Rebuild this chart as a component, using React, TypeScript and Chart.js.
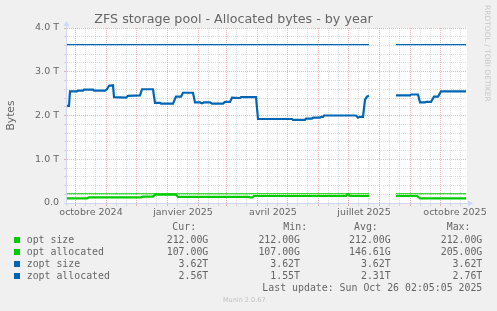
import React, { useEffect, useRef } from "react";
import { Chart, registerables } from "chart.js";

Chart.register(...registerables);

// ---------- data (x = days since 1 Oct 2024, y = terabytes) ----------
const TITLE = "ZFS storage pool - Allocated bytes - by year";
const X_MIN = -8;
const X_MAX = 392;

const monthStartDays = [0, 31, 61, 92, 123, 151, 182, 212, 243, 273, 304, 335, 365];
const minorDays = [10, 20, 41, 51, 71, 81, 102, 112, 133, 143, 161, 171, 192, 202, 222, 232, 253, 263, 283, 293, 314, 324, 345, 355, 375, 385];
const xLabelDays = [16, 108, 198, 289, 380];
const xLabels = ["octobre 2024", "janvier 2025", "avril 2025", "juillet 2025", "octobre 2025"];

const sizeDays = [-8, 294, 307, 321, 391];
const optSize = [0.212, 0.212, null, 0.212, 0.212];
const zoptSize = [3.62, 3.62, null, 3.62, 3.62];

const optAllocDays = [-8, 12, 14, 66, 68, 78, 80, 101, 103, 173, 175, 177, 179, 271, 272, 274, 275, 294, 307, 321, 342, 345, 391];
const optAlloc = [0.107, 0.107, 0.13, 0.13, 0.145, 0.145, 0.19, 0.19, 0.14, 0.14, 0.128, 0.128, 0.16, 0.16, 0.19, 0.19, 0.16, 0.16, null, 0.16, 0.16, 0.107, 0.107];

const zoptAllocDays = [-8, -6, -5, 2, 3, 8, 9, 18, 19, 30, 32, 34, 38, 39, 51, 53, 65, 67, 78, 80, 85, 86, 98, 101, 106, 108, 118, 120, 125, 127, 129, 135, 137, 148, 150, 155, 157, 165, 166, 181, 183, 217, 218, 230, 231, 237, 238, 245, 246, 248, 249, 281, 283, 285, 288, 290, 292, 294, 307, 321, 335, 336, 343, 345, 350, 351, 356, 359, 363, 366, 391];
const zoptAlloc = [2.22, 2.22, 2.55, 2.55, 2.57, 2.57, 2.59, 2.59, 2.57, 2.57, 2.6, 2.68, 2.69, 2.42, 2.41, 2.45, 2.46, 2.6, 2.6, 2.29, 2.29, 2.27, 2.27, 2.43, 2.43, 2.52, 2.52, 2.3, 2.3, 2.28, 2.3, 2.3, 2.27, 2.27, 2.31, 2.31, 2.41, 2.4, 2.42, 2.42, 1.92, 1.92, 1.9, 1.9, 1.93, 1.93, 1.95, 1.95, 1.97, 1.97, 2.0, 2.0, 1.95, 1.97, 1.97, 2.36, 2.43, 2.45, null, 2.46, 2.46, 2.48, 2.48, 2.3, 2.3, 2.31, 2.31, 2.43, 2.43, 2.55, 2.55];

const legendNames = ["opt size", "opt allocated", "zopt size", "zopt allocated"];
const legendColors = ["#00cc00", "#00cc00", "#0066b3", "#0066b3"];
const curValues = ["212.00G", "107.00G", "3.62T", "2.56T"];
const minValues = ["212.00G", "107.00G", "3.62T", "1.55T"];
const avgValues = ["212.00G", "146.61G", "3.62T", "2.31T"];
const maxValues = ["212.00G", "205.00G", "3.62T", "2.76T"];
const LAST_UPDATE = "Last update: Sun Oct 26 02:05:05 2025";

// ---------- styling ----------
const FONT_COLOR = "#666666";
const AXIS_COLOR = "#CFD6F8";
const MAJOR_GRID = "rgba(222,79,79,0.42)";
const MINOR_GRID = "rgba(143,143,143,0.3)";
const CLEAR = "rgba(0,0,0,0)";

const toPoints = (xs: number[], ys: (number | null)[]) => xs.map((x, i) => ({ x, y: ys[i] }));

const muninPlugin = {
  id: "muninFrame",
  beforeDraw(chart: any) {
    const { ctx, chartArea: a } = chart;
    ctx.save();
    ctx.fillStyle = "#ffffff";
    ctx.fillRect(a.left, a.top, a.right - a.left, a.bottom - a.top);
    ctx.restore();
  },
  afterDatasetsDraw(chart: any) {
    const { ctx, chartArea: a } = chart;
    ctx.save();
    ctx.strokeStyle = AXIS_COLOR;
    ctx.fillStyle = AXIS_COLOR;
    ctx.lineWidth = 1;
    ctx.beginPath();
    ctx.moveTo(a.left - 3, a.bottom + 0.5);
    ctx.lineTo(a.right + 3, a.bottom + 0.5);
    ctx.moveTo(a.left - 0.5, a.bottom + 3);
    ctx.lineTo(a.left - 0.5, a.top - 3);
    ctx.stroke();
    ctx.beginPath();
    ctx.moveTo(a.right + 1, a.bottom - 2.5);
    ctx.lineTo(a.right + 6, a.bottom + 0.5);
    ctx.lineTo(a.right + 1, a.bottom + 3.5);
    ctx.closePath();
    ctx.fill();
    ctx.beginPath();
    ctx.moveTo(a.left - 3.5, a.top - 2);
    ctx.lineTo(a.left - 0.5, a.top - 7);
    ctx.lineTo(a.left + 2.5, a.top - 2);
    ctx.closePath();
    ctx.fill();
    ctx.restore();
  },
};

const isMajorY = (v: number) => Math.abs(v - Math.round(v)) < 1e-6;

export default function App() {
  const ref = useRef<HTMLCanvasElement>(null);

  useEffect(() => {
    const xTicks = [...monthStartDays, ...minorDays, ...xLabelDays].sort((a, b) => a - b);
    const chart = new Chart(ref.current as HTMLCanvasElement, {
      type: "line",
      data: {
        datasets: [
          { label: "opt size", data: toPoints(sizeDays, optSize), borderColor: "#00cc00", borderWidth: 1.2, order: 4 },
          { label: "opt allocated", data: toPoints(optAllocDays, optAlloc), borderColor: "#00cc00", borderWidth: 2.2, order: 3 },
          { label: "zopt size", data: toPoints(sizeDays, zoptSize), borderColor: "#0066b3", borderWidth: 1.2, order: 2 },
          { label: "zopt allocated", data: toPoints(zoptAllocDays, zoptAlloc), borderColor: "#0066b3", borderWidth: 2.2, order: 1 },
        ] as any,
      },
      options: {
        animation: false,
        responsive: false,
        devicePixelRatio: 1,
        spanGaps: false,
        elements: { point: { radius: 0 }, line: { tension: 0, fill: false } },
        layout: { padding: { left: 0, right: 30, top: 0, bottom: 0 } },
        plugins: {
          legend: { display: false },
          tooltip: { enabled: false },
          title: {
            display: true,
            text: TITLE,
            color: FONT_COLOR,
            font: { family: "DejaVu Sans", size: 12.7, weight: "normal" },
            padding: { top: 12.5, bottom: 0.26 },
          },
        },
        scales: {
          x: {
            type: "linear",
            min: X_MIN,
            max: X_MAX,
            afterBuildTicks: (axis: any) => {
              axis.ticks = xTicks.map((v) => ({ value: v }));
            },
            afterFit: (s: any) => {
              s.height = 22;
            },
            ticks: {
              autoSkip: false,
              maxRotation: 0,
              minRotation: 0,
              padding: 1,
              color: FONT_COLOR,
              font: { family: "DejaVu Sans", size: 9.5 },
              callback: (v: any) => {
                const i = xLabelDays.indexOf(Number(v));
                return i >= 0 ? xLabels[i] : "";
              },
            },
            grid: {
              lineWidth: 1,
              tickLength: 3,
              color: (c: any) => {
                const v = c.tick ? c.tick.value : NaN;
                if (monthStartDays.includes(v)) return MAJOR_GRID;
                if (minorDays.includes(v)) return MINOR_GRID;
                return CLEAR;
              },
            },
            border: { display: false, dash: [1, 1] },
          },
          y: {
            type: "linear",
            min: 0,
            max: 4,
            afterFit: (s: any) => {
              s.width = 67;
            },
            ticks: {
              stepSize: 0.2,
              autoSkip: false,
              padding: 5,
              color: FONT_COLOR,
              font: { family: "DejaVu Sans", size: 9.5 },
              callback: (v: any) => {
                const n = Number(v);
                if (!isMajorY(n)) return "";
                return n === 0 ? "0.0" : `${n.toFixed(1)} T`;
              },
            },
            grid: {
              lineWidth: 1,
              tickLength: 3,
              color: (c: any) => (c.tick && isMajorY(c.tick.value) ? MAJOR_GRID : MINOR_GRID),
            },
            border: { display: false, dash: [1, 1] },
            title: {
              display: true,
              text: "Bytes",
              color: FONT_COLOR,
              font: { family: "DejaVu Sans", size: 10.7 },
              padding: { top: 4.6, bottom: 0 },
            },
          },
        },
      } as any,
      plugins: [muninPlugin],
    });
    return () => chart.destroy();
  }, []);

  const mono: React.CSSProperties = {
    position: "absolute",
    fontFamily: '"DejaVu Sans Mono", monospace',
    fontSize: 9.9,
    color: FONT_COLOR,
    whiteSpace: "pre",
    lineHeight: "12px",
    height: 12,
  };
  const rowY = (i: number) => 239.5 + 12 * i;
  const colRights = [208.3, 300, 390.7, 482.3];
  const headerLefts = [172.3, 283.3, 354, 446.7];
  const headers = ["Cur:", "Min:", "Avg:", "Max:"];
  const cols = [curValues, minValues, avgValues, maxValues];

  return (
    <div style={{ position: "fixed", left: 0, top: 0, width: 497, height: 311, background: "#f0f0f0", overflow: "hidden" }}>
      <canvas ref={ref} width={497} height={225} style={{ position: "absolute", left: 0, top: 0, width: 497, height: 225, display: "block" }} />
      <div
        style={{
          position: "absolute",
          left: 482,
          top: 5,
          writingMode: "vertical-rl",
          fontFamily: '"DejaVu Sans", sans-serif',
          fontSize: 7.5,
          color: "#c8c8c8",
          whiteSpace: "nowrap",
          lineHeight: "10px",
        }}
      >
        RRDTOOL / TOBI OETIKER
      </div>
      {headers.map((h, i) => (
        <div key={h} style={{ ...mono, left: headerLefts[i], top: 227 - 6 }}>{h}</div>
      ))}
      {legendNames.map((name, r) => (
        <React.Fragment key={name}>
          <div style={{ position: "absolute", left: 14, top: rowY(r) - 3, width: 6, height: 6, background: legendColors[r] }} />
          <div style={{ ...mono, left: 26.7, top: rowY(r) - 6 }}>{name}</div>
          {cols.map((col, c) => (
            <div key={c} style={{ ...mono, right: 497 - colRights[c], top: rowY(r) - 6, textAlign: "right" }}>{col[r]}</div>
          ))}
        </React.Fragment>
      ))}
      <div style={{ ...mono, right: 497 - 482.3, top: 287.5 - 6, textAlign: "right" }}>{LAST_UPDATE}</div>
      <div
        style={{
          position: "absolute",
          left: 223,
          top: 296,
          fontFamily: '"DejaVu Sans", sans-serif',
          fontSize: 6.5,
          color: "#c0c0c0",
          whiteSpace: "nowrap",
          lineHeight: "8px",
        }}
      >
        Munin 2.0.67
      </div>
    </div>
  );
}
